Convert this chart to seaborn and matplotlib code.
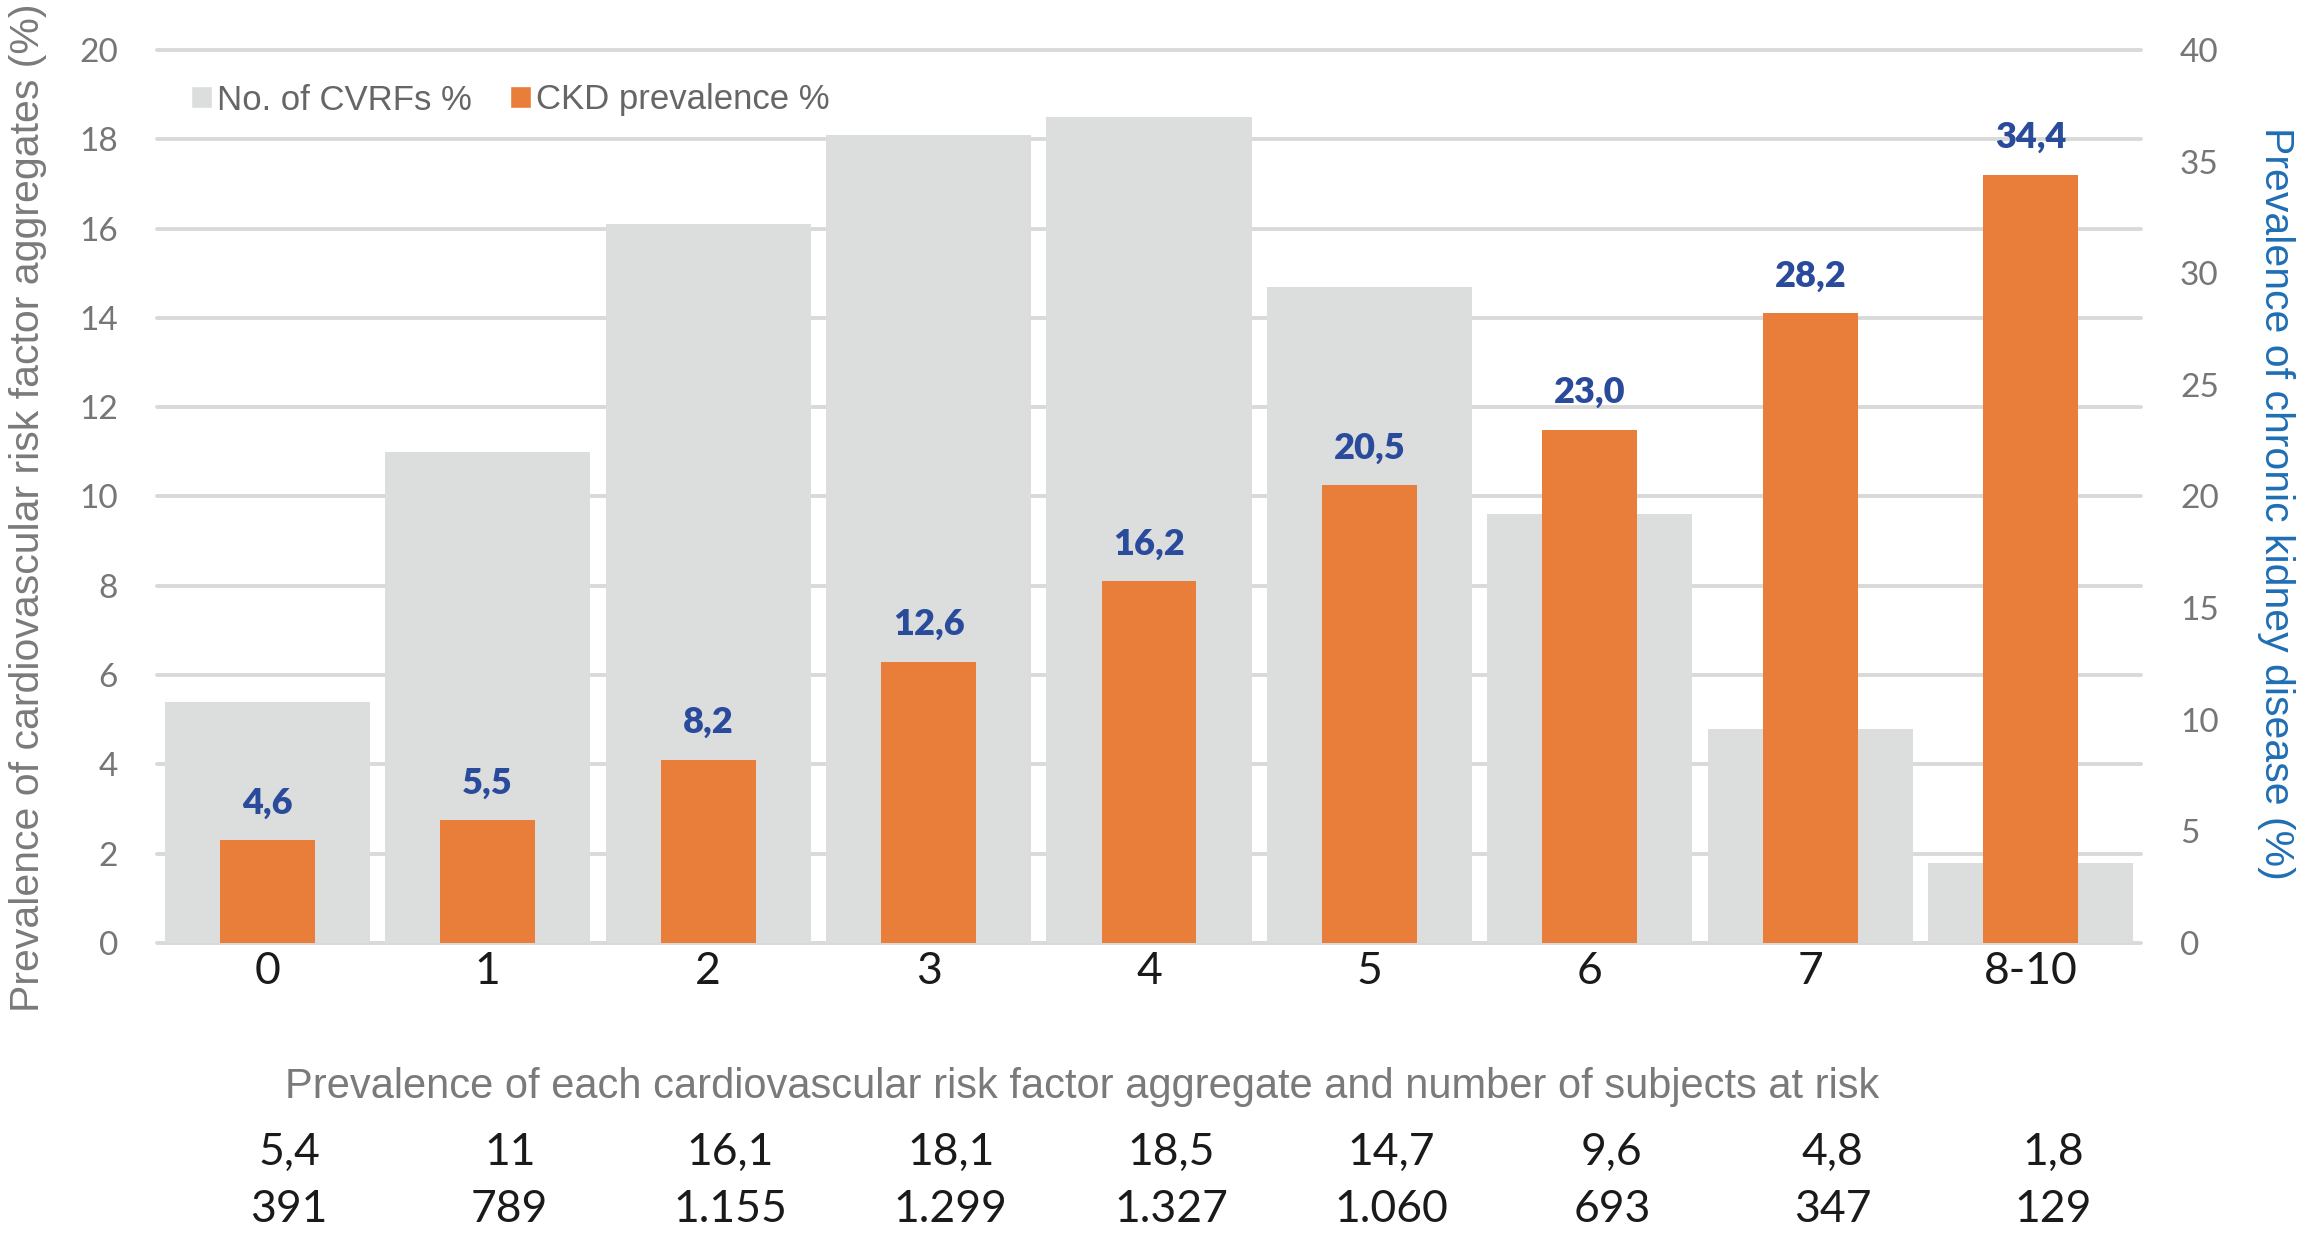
import matplotlib
matplotlib.use("Agg")
import matplotlib.pyplot as plt
import matplotlib.transforms as mtransforms
from matplotlib.patches import Patch
import seaborn as sns
import pandas as pd

# ---------------- data ----------------
categories = ["0", "1", "2", "3", "4", "5", "6", "7", "8-10"]
cvrf_pct = [5.4, 11.0, 16.1, 18.1, 18.5, 14.7, 9.6, 4.8, 1.8]
ckd_pct = [4.6, 5.5, 8.2, 12.6, 16.2, 20.5, 23.0, 28.2, 34.4]
cvrf_pct_labels = ["5,4", "11", "16,1", "18,1", "18,5", "14,7", "9,6", "4,8", "1,8"]
subjects_labels = ["391", "789", "1.155", "1.299", "1.327", "1.060", "693", "347", "129"]
left_ticks = list(range(0, 21, 2))
right_ticks = list(range(0, 41, 5))
legend_labels = ["No. of CVRFs %", "CKD prevalence %"]
left_ylabel = "Prevalence of cardiovascular risk factor aggregates (%)"
right_ylabel = "Prevalence of chronic kidney disease (%)"
bottom_title = "Prevalence of each cardiovascular risk factor aggregate and number of subjects at risk"

# ---------------- style ----------------
GRAY = "#DCDDDD"
ORANGE = "#E87E3A"
GRID = "#D9D9D9"
BLUE_LBL = "#2A4B9C"
BLUE_AX = "#1F6EB4"
TICKGRAY = "#767676"
TEXTGRAY = "#7A7A7A"
DARK = "#1A1A1A"
ARIAL = ["Liberation Sans", "DejaVu Sans"]

sns.set_style("white")
plt.rcParams["font.family"] = ["Lato", "DejaVu Sans"]

df = pd.DataFrame({"cat": categories, "cvrf": cvrf_pct, "ckd": ckd_pct})

W, H = 2302, 1233
fig = plt.figure(figsize=(W / 100, H / 100), dpi=100)
x0, x1 = 157 / W, 2141 / W
y1, y0 = 1 - 50 / H, 1 - 943 / H
ax = fig.add_axes([x0, y0, x1 - x0, y1 - y0])

sns.barplot(data=df, x="cat", y="cvrf", color=GRAY, saturation=1, width=0.93,
            linewidth=0, ax=ax)
ax2 = ax.twinx()
sns.barplot(data=df, x="cat", y="ckd", color=ORANGE, saturation=1, width=0.43,
            linewidth=0, ax=ax2)

ax.set_xlim(-0.5, 8.5)
ax.set_ylim(0, 20)
ax2.set_ylim(0, 40)
ax.set_yticks(left_ticks)
ax2.set_yticks(right_ticks)
ax.set_xlabel("")
ax.set_ylabel("")
ax2.set_xlabel("")
ax2.set_ylabel("")

ax.yaxis.grid(True, color=GRID, linewidth=2.8, clip_on=False)
ax.xaxis.grid(False)
ax2.grid(False)
ax.set_axisbelow(True)
for a in (ax, ax2):
    for s in a.spines.values():
        s.set_visible(False)

ax.tick_params(axis="y", length=0, pad=28, labelsize=24, labelcolor=TICKGRAY)
ax2.tick_params(axis="y", length=0, pad=28, labelsize=24, labelcolor=TICKGRAY)
ax.tick_params(axis="x", length=0, pad=6, labelsize=32, labelcolor=DARK)

# data labels on CKD bars
ckd_labels = [f"{v:.1f}".replace(".", ",") for v in ckd_pct]
ax2.bar_label(ax2.containers[0], labels=ckd_labels, padding=15,
              color=BLUE_LBL, fontsize=26, fontweight="heavy")

# legend
handles = [Patch(facecolor=GRAY, label=legend_labels[0]),
           Patch(facecolor=ORANGE, label=legend_labels[1])]
fig.legend(handles=handles, loc="center left", bbox_to_anchor=(191 / W, 1 - 100 / H),
           ncol=2, frameon=False, prop={"family": ARIAL, "size": 25},
           labelcolor="#666666", handlelength=0.6, handleheight=0.6,
           handletextpad=0.15, columnspacing=1.1, borderpad=0, borderaxespad=0)

# axis titles
fig.text(28 / W, 1 - 508 / H, left_ylabel, rotation=90, ha="center", va="center",
         fontsize=29.5, color=TEXTGRAY, family=ARIAL)
fig.text(2276 / W, 1 - 503 / H, right_ylabel, rotation=270, ha="center", va="center",
         fontsize=29.5, color=BLUE_AX, family=ARIAL)

# bottom table
fig.text(1082 / W, 1 - 1098 / H, bottom_title, ha="center", va="baseline",
         fontsize=30, color=TEXTGRAY, family=ARIAL)
trans = mtransforms.blended_transform_factory(ax.transData, fig.transFigure)
for i, (a, b) in enumerate(zip(cvrf_pct_labels, subjects_labels)):
    ax.text(i + 0.1, 1 - 1165 / H, a, transform=trans, ha="center", va="baseline",
            fontsize=32, color=DARK, clip_on=False)
    ax.text(i + 0.1, 1 - 1222 / H, b, transform=trans, ha="center", va="baseline",
            fontsize=32, color=DARK, clip_on=False)

fig.savefig("out.png", dpi=100)
